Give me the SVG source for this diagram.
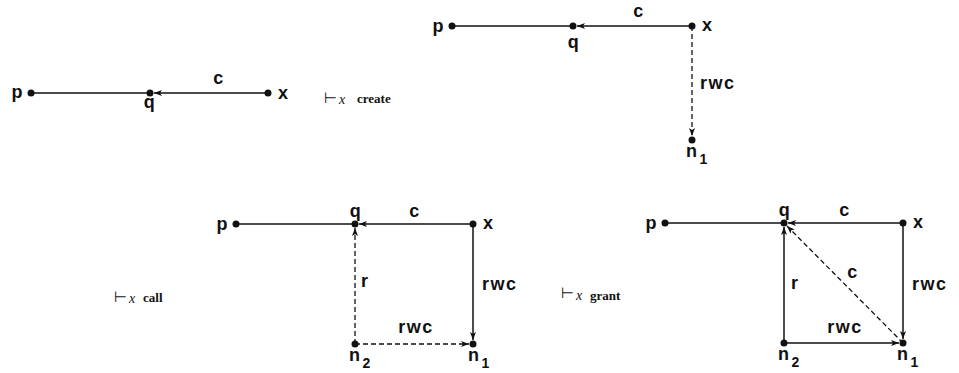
<svg xmlns="http://www.w3.org/2000/svg" width="959" height="373" viewBox="0 0 959 373">
<style>
.lbl{font-family:"Liberation Sans",Arial,sans-serif;font-weight:bold;font-size:18px;letter-spacing:1.5px;fill:#111}
.sub{font-size:14px}
.ts{font-family:"DejaVu Sans",sans-serif;font-size:15px;fill:#111}
.tx{font-family:"Liberation Serif",serif;font-style:italic;font-size:14px;fill:#111}
.tw{font-family:"Liberation Serif",serif;font-weight:bold;font-size:13px;fill:#111}
.e{stroke:#111;stroke-width:1.5;fill:none}
.d{stroke:#111;stroke-width:1.3;fill:none;stroke-dasharray:5 3}
.a{marker-end:url(#ah)}
.dot{fill:#111}
</style>
<defs>
<marker id="ah" markerUnits="userSpaceOnUse" markerWidth="10" markerHeight="8" refX="8" refY="3.5" orient="auto">
<path d="M0,0.5 L8,3.5 L0,6.5 L2,3.5 z" fill="#111"/>
</marker>
</defs>

<g id="connectors">
<!-- D1 -->
<line class="e" x1="31" y1="93" x2="150" y2="93"/>
<line class="e a" x1="268" y1="93" x2="154" y2="93"/>
<!-- D2 -->
<line class="e" x1="452" y1="26" x2="573" y2="26"/>
<line class="e a" x1="692" y1="26" x2="577" y2="26"/>
<line class="d a" x1="692" y1="26" x2="692" y2="136"/>
<!-- D3 -->
<line class="e" x1="236" y1="224" x2="355" y2="224"/>
<line class="e a" x1="473" y1="224" x2="359" y2="224"/>
<line class="e a" x1="473" y1="224" x2="473" y2="340"/>
<line class="d a" x1="355" y1="344" x2="355" y2="228"/>
<line class="d a" x1="355" y1="344" x2="469" y2="344"/>
<!-- D4 -->
<line class="e" x1="665" y1="223" x2="784" y2="223"/>
<line class="e a" x1="903" y1="223" x2="788" y2="223"/>
<line class="e a" x1="903" y1="223" x2="903" y2="339"/>
<line class="e a" x1="784" y1="343" x2="784" y2="227"/>
<line class="e a" x1="784" y1="343" x2="899" y2="343"/>
<line class="d a" x1="903" y1="343" x2="787" y2="226"/>
</g>

<g id="d1">
<g id="d1-p"><circle class="dot" cx="31" cy="93" r="3.5"/><text class="lbl" x="24" y="98" text-anchor="end">p</text></g>
<g id="d1-q"><circle class="dot" cx="150" cy="93" r="3.5"/><text class="lbl" x="150" y="108" text-anchor="middle">q</text></g>
<g id="d1-x"><circle class="dot" cx="268" cy="93" r="3.5"/><text class="lbl" x="278" y="99">x</text></g>
<text class="lbl" x="219" y="84" text-anchor="middle">c</text>
<g id="d1-turnstile"><text class="ts" x="324" y="103">⊢</text><text class="tx" x="339" y="104">x</text><text class="tw" x="357" y="103">create</text></g>
</g>

<g id="d2">
<g id="d2-p"><circle class="dot" cx="452" cy="26" r="3.5"/><text class="lbl" x="445" y="32" text-anchor="end">p</text></g>
<g id="d2-q"><circle class="dot" cx="573" cy="26" r="3.5"/><text class="lbl" x="574" y="48" text-anchor="middle">q</text></g>
<g id="d2-x"><circle class="dot" cx="692" cy="26" r="3.5"/><text class="lbl" x="702" y="31">x</text></g>
<g id="d2-n1"><circle class="dot" cx="692" cy="140" r="3.5"/><text class="lbl" x="686" y="157">n<tspan class="sub" dx="1" dy="7">1</tspan></text></g>
<text class="lbl" x="639" y="17" text-anchor="middle">c</text>
<text class="lbl" x="700" y="89">rwc</text>
</g>

<g id="d3">
<g id="d3-p"><circle class="dot" cx="236" cy="224" r="3.5"/><text class="lbl" x="229" y="230" text-anchor="end">p</text></g>
<g id="d3-q"><circle class="dot" cx="355" cy="224" r="3.5"/><text class="lbl" x="356" y="217" text-anchor="middle">q</text></g>
<g id="d3-x"><circle class="dot" cx="473" cy="224" r="3.5"/><text class="lbl" x="483" y="229">x</text></g>
<g id="d3-n2"><circle class="dot" cx="355" cy="344" r="3.5"/><text class="lbl" x="349" y="361">n<tspan class="sub" dx="1" dy="7">2</tspan></text></g>
<g id="d3-n1"><circle class="dot" cx="473" cy="344" r="3.5"/><text class="lbl" x="468" y="361">n<tspan class="sub" dx="1" dy="7">1</tspan></text></g>
<text class="lbl" x="415" y="217" text-anchor="middle">c</text>
<text class="lbl" x="482" y="290">rwc</text>
<text class="lbl" x="361" y="287">r</text>
<text class="lbl" x="416" y="333" text-anchor="middle">rwc</text>
<g id="d3-turnstile"><text class="ts" x="114" y="302">⊢</text><text class="tx" x="129" y="303">x</text><text class="tw" x="143" y="302">call</text></g>
</g>

<g id="d4">
<g id="d4-p"><circle class="dot" cx="665" cy="223" r="3.5"/><text class="lbl" x="658" y="229" text-anchor="end">p</text></g>
<g id="d4-q"><circle class="dot" cx="784" cy="223" r="3.5"/><text class="lbl" x="785" y="216" text-anchor="middle">q</text></g>
<g id="d4-x"><circle class="dot" cx="903" cy="223" r="3.5"/><text class="lbl" x="913" y="228">x</text></g>
<g id="d4-n2"><circle class="dot" cx="784" cy="343" r="3.5"/><text class="lbl" x="778" y="360">n<tspan class="sub" dx="1" dy="7">2</tspan></text></g>
<g id="d4-n1"><circle class="dot" cx="903" cy="343" r="3.5"/><text class="lbl" x="897" y="360">n<tspan class="sub" dx="1" dy="7">1</tspan></text></g>
<text class="lbl" x="845" y="216" text-anchor="middle">c</text>
<text class="lbl" x="912" y="290">rwc</text>
<text class="lbl" x="791" y="289">r</text>
<text class="lbl" x="853" y="278" text-anchor="middle">c</text>
<text class="lbl" x="845" y="333" text-anchor="middle">rwc</text>
<g id="d4-turnstile"><text class="ts" x="561" y="298">⊢</text><text class="tx" x="576" y="300">x</text><text class="tw" x="590" y="300">grant</text></g>
</g>
</svg>
